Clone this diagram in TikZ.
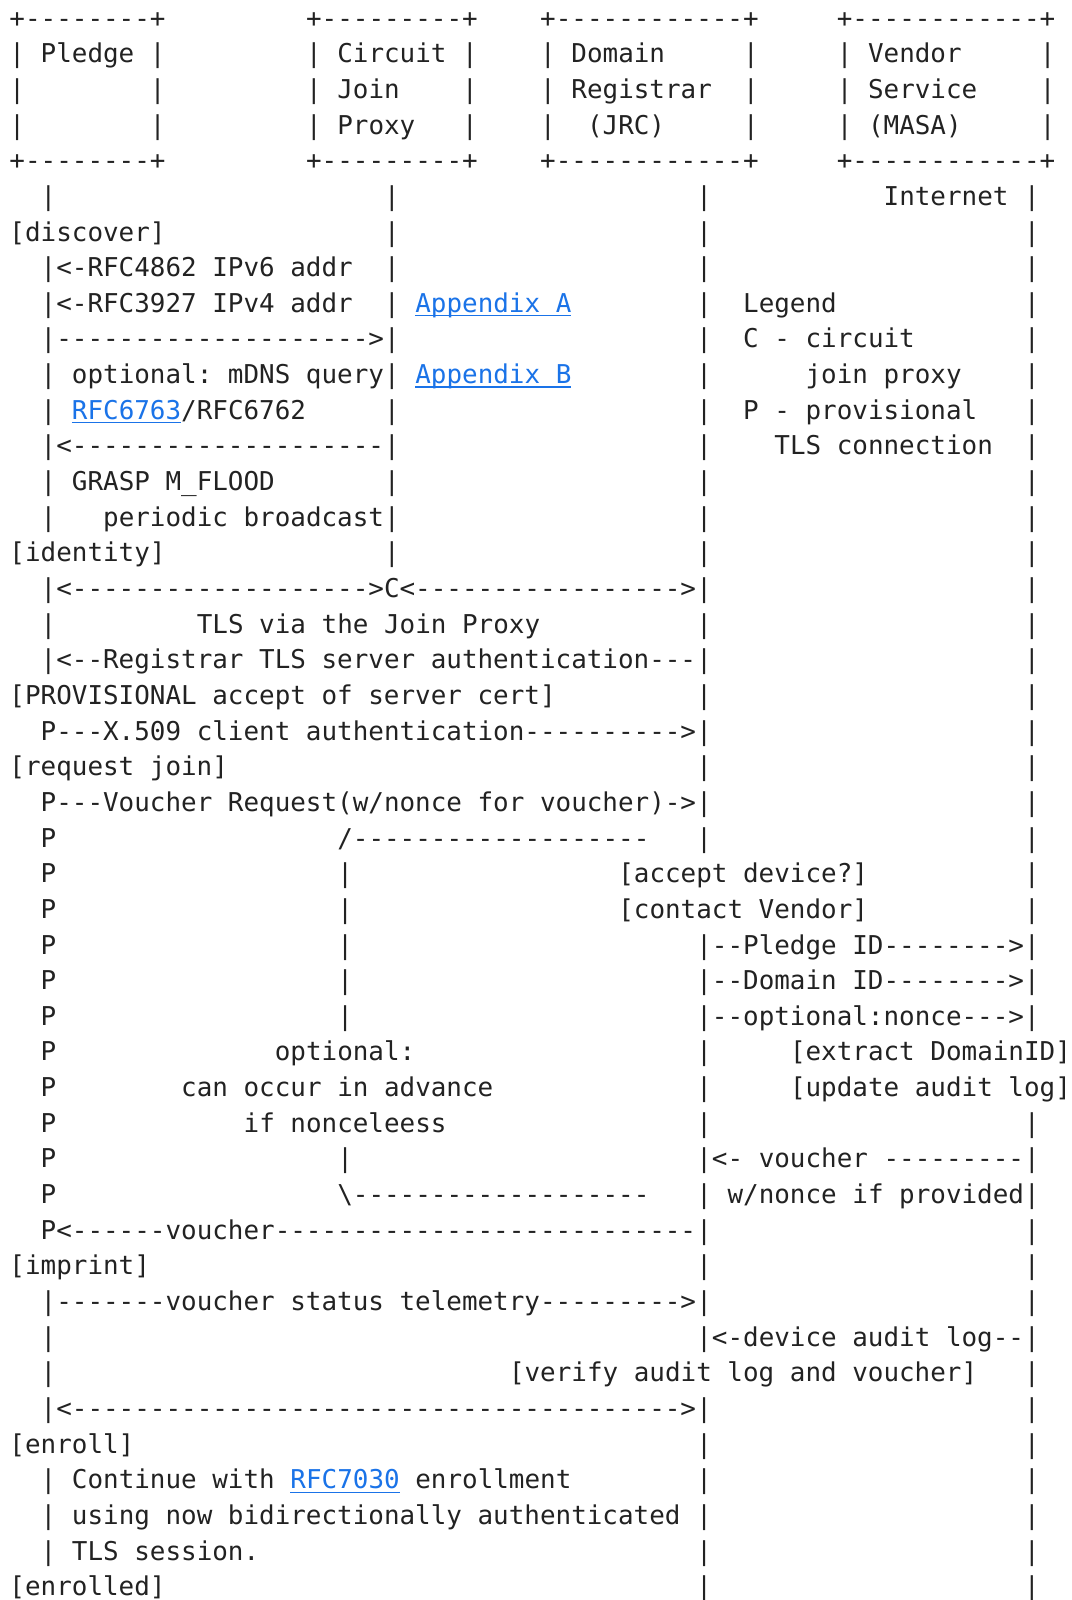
\documentclass[tikz,border=0pt]{standalone}
\usepackage{fontspec}
\setmonofont{DejaVu Sans Mono}
\usepackage{tikz}
\usepackage{xcolor}
\definecolor{ink}{HTML}{222222}
\definecolor{linkblue}{HTML}{1A73E8}

\begin{document}
\begin{tikzpicture}[
  x=7.805pt,
  y=-17.825pt,
  ascii/.style={anchor=base west, inner sep=0pt, outer sep=0pt, text=ink,
    font=\fontsize{12.96pt}{17.8pt}\selectfont\ttfamily\frenchspacing},
  link/.style={ascii, text=linkblue},
  uline/.style={draw=linkblue, line width=0.65pt}
]
  \useasboundingbox[fill=white] (-4.75pt,13.55pt) rectangle (530.75pt,-786.45pt);

  % Participant boxes (one column is one character cell, one row is one line).
  \node[ascii] (pledgetop) at (0,0) {+--------+};
  \node[ascii] (proxytop) at (19,0) {+---------+};
  \node[ascii] (regtop) at (34,0) {+------------+};
  \node[ascii] (masatop) at (53,0) {+------------+};
  \foreach \r in {1,2,3}
    \foreach \c in {0,9,19,29,34,47,53,66}
      \node[ascii] (side\c-\r) at (\c,\r) {|};
  \node[ascii] (pledge) at (2,1) {Pledge};
  \node[ascii] (circuit) at (21,1) {Circuit};
  \node[ascii] (join) at (21,2) {Join};
  \node[ascii] (proxy) at (21,3) {Proxy};
  \node[ascii] (domain) at (36,1) {Domain};
  \node[ascii] (registrar) at (36,2) {Registrar};
  \node[ascii] (jrc) at (37,3) {(JRC)};
  \node[ascii] (vendor) at (55,1) {Vendor};
  \node[ascii] (service) at (55,2) {Service};
  \node[ascii] (masa) at (55,3) {(MASA)};
  \node[ascii] (pledgebot) at (0,4) {+--------+};
  \node[ascii] (proxybot) at (19,4) {+---------+};
  \node[ascii] (regbot) at (34,4) {+------------+};
  \node[ascii] (masabot) at (53,4) {+------------+};
  \node[ascii] (internet) at (56,5) {Internet};

  % Lifelines.
  \foreach \r in {5,7,8,9,10,11,12,13,14,16,17,18,36,37,38,39,41,42,43}
    \node[ascii] (pl\r) at (2,\r) {|};
  \foreach \r in {5,...,15}
    \node[ascii] (cj\r) at (24,\r) {|};
  \foreach \r in {5,...,23}
    \node[ascii] (rg\r) at (44,\r) {|};
  \foreach \r in {26,...,37}
    \node[ascii] (rg\r) at (44,\r) {|};
  \foreach \r in {39,...,44}
    \node[ascii] (rg\r) at (44,\r) {|};
  \foreach \r in {5,...,28}
    \node[ascii] (vs\r) at (65,\r) {|};
  \foreach \r in {31,...,44}
    \node[ascii] (vs\r) at (65,\r) {|};
  \foreach \r in {23,...,33}
    \node[ascii] (prov\r) at (2,\r) {P};
  \foreach \r in {24,25,26,27,28,32}
    \node[ascii] (adv\r) at (21,\r) {|};

  % Discovery.
  \node[ascii] (discover) at (0,6) {[discover]};
  \node[ascii] (ipv6) at (3,7) {<-RFC4862 IPv6 addr};
  \node[ascii] (ipv4) at (3,8) {<-RFC3927 IPv4 addr};
  \node[link] (appa) at (26,8) {Appendix A};
  \node[ascii] (mdnsq) at (3,9) {-------------------->};
  \node[ascii] (mdns) at (4,10) {optional: mDNS query};
  \node[link] (appb) at (26,10) {Appendix B};
  \node[link] (rfcdns) at (4,11) {RFC6763};
  \node[ascii] (rfcsd) at (11,11) {/RFC6762};
  \node[ascii] (mdnsr) at (3,12) {<--------------------};
  \node[ascii] (grasp) at (4,13) {GRASP M\_FLOOD};
  \node[ascii] (bcast) at (6,14) {periodic broadcast};

  % Legend.
  \node[ascii] (legend) at (47,8) {Legend};
  \node[ascii] (legc) at (47,9) {C - circuit};
  \node[ascii] (legc2) at (51,10) {join proxy};
  \node[ascii] (legp) at (47,11) {P - provisional};
  \node[ascii] (legp2) at (49,12) {TLS connection};

  % Identity and provisional TLS.
  \node[ascii] (identity) at (0,15) {[identity]};
  \node[ascii] (tls) at (3,16) {<------------------->C<----------------->};
  \node[ascii] (tlsvia) at (12,17) {TLS via the Join Proxy};
  \node[ascii] (srvauth) at (3,18) {<--Registrar TLS server authentication---};
  \node[ascii] (provisional) at (0,19) {[PROVISIONAL accept of server cert]};
  \node[ascii] (cliauth) at (2,20) {P---X.509 client authentication---------->};

  % Voucher request.
  \node[ascii] (reqjoin) at (0,21) {[request join]};
  \node[ascii] (vreq) at (2,22) {P---Voucher Request(w/nonce for voucher)->};
  \node[ascii] (advtop) at (21,23) {/-------------------};
  \node[ascii] (accept) at (39,24) {[accept device?]};
  \node[ascii] (contact) at (39,25) {[contact Vendor]};
  \node[ascii] (pledgeid) at (45,26) {--Pledge ID-------->};
  \node[ascii] (domainid) at (45,27) {--Domain ID-------->};
  \node[ascii] (nonce) at (45,28) {--optional:nonce--->};
  \node[ascii] (advopt) at (17,29) {optional:};
  \node[ascii] (extract) at (50,29) {[extract DomainID]};
  \node[ascii] (advance) at (11,30) {can occur in advance};
  \node[ascii] (update) at (50,30) {[update audit log]};
  \node[ascii] (nonceless) at (15,31) {if nonceleess};
  \node[ascii] (masavch) at (45,32) {<- voucher ---------};
  \node[ascii] (advbot) at (21,33) {\textbackslash-------------------};
  \node[ascii] (wnonce) at (46,33) {w/nonce if provided};
  \node[ascii] (voucher) at (2,34) {P<------voucher---------------------------};

  % Imprint and enrollment.
  \node[ascii] (imprint) at (0,35) {[imprint]};
  \node[ascii] (status) at (3,36) {-------voucher status telemetry--------->};
  \node[ascii] (auditlog) at (45,37) {<-device audit log--};
  \node[ascii] (verify) at (32,38) {[verify audit log and voucher]};
  \node[ascii] (estls) at (3,39) {<--------------------------------------->};
  \node[ascii] (enroll) at (0,40) {[enroll]};
  \node[ascii] (cont) at (4,41) {Continue with};
  \node[link] (rfcest) at (18,41) {RFC7030};
  \node[ascii] (enrollment) at (26,41) {enrollment};
  \node[ascii] (bidir) at (4,42) {using now bidirectionally authenticated};
  \node[ascii] (session) at (4,43) {TLS session.};
  \node[ascii] (enrolled) at (0,44) {[enrolled]};

  % Link underlines.
  \draw[uline] ([yshift=-1.7pt]appa.base west) -- ([yshift=-1.7pt]appa.base east);
  \draw[uline] ([yshift=-1.7pt]appb.base west) -- ([yshift=-1.7pt]appb.base east);
  \draw[uline] ([yshift=-1.7pt]rfcdns.base west) -- ([yshift=-1.7pt]rfcdns.base east);
  \draw[uline] ([yshift=-1.7pt]rfcest.base west) -- ([yshift=-1.7pt]rfcest.base east);
\end{tikzpicture}
\end{document}
